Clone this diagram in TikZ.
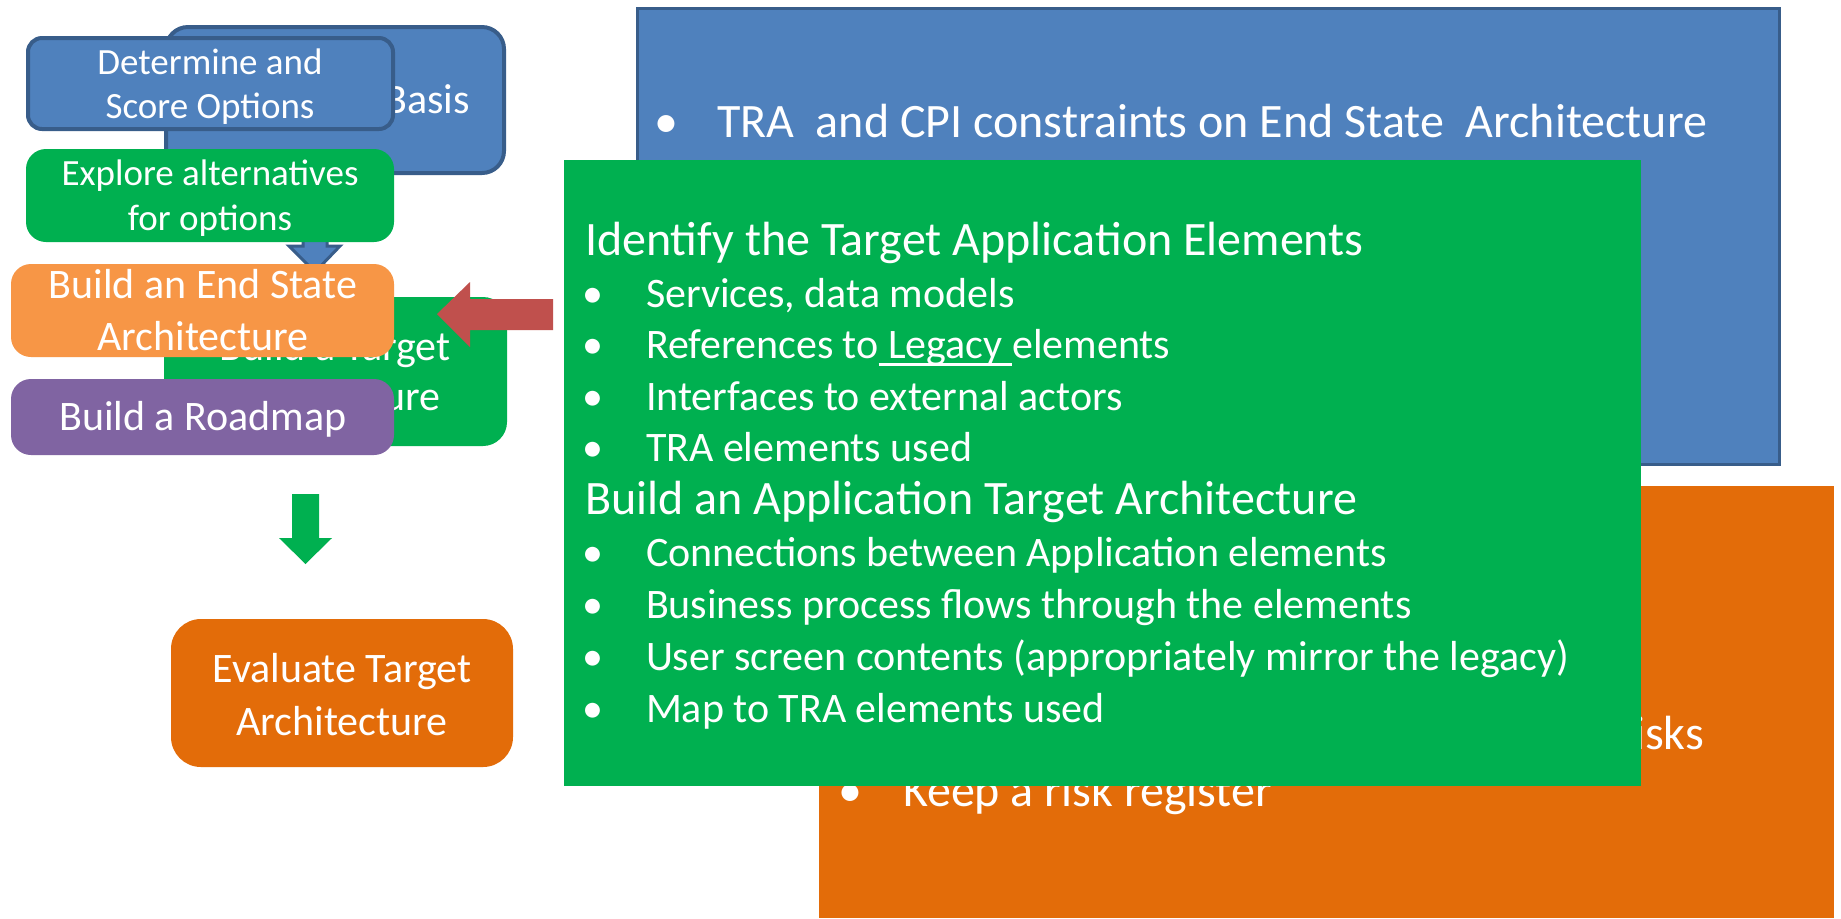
\documentclass[tikz,border=0pt]{standalone}
\usepackage{fontspec}
\setmainfont{Carlito}
\usetikzlibrary{fit}
\definecolor{offblue}{HTML}{4F81BD}
\definecolor{offblueline}{HTML}{385D8A}
\definecolor{offgreen}{HTML}{00B050}
\definecolor{offorange}{HTML}{F79646}
\definecolor{offdarkorange}{HTML}{E36C09}
\definecolor{offpurple}{HTML}{8064A2}
\definecolor{offred}{HTML}{C0504D}
\newcommand\legacyline[1]{{\setbox0\hbox{#1}\rlap{\rule[-3.8pt]{\wd0}{1.2pt}}\box0}}
\tikzset{
  panel/.style={inner sep=0pt, outer sep=0pt},
  lbl/.style={text=white, inner sep=0pt, outer sep=0pt, anchor=base},
  small/.style={lbl, font=\fontsize{18.5}{22}\selectfont},
  mid/.style={lbl, font=\fontsize{21}{25}\selectfont},
  big/.style={lbl, font=\fontsize{24}{29}\selectfont},
  lefttext/.style={anchor=base west},
  blockarrow/.style={line join=miter},
}
\begin{document}
\begin{tikzpicture}[x=0.5pt,y=-0.5pt]
\useasboundingbox[fill=white] (0,0) rectangle (1841,918);

% back boxes of the left flow
\node[panel, fill=offblue, draw=offblueline, line width=2pt, rounded corners=11pt, fit={(166,27) (504,173)}] (basis) {};
\node[mid, anchor=base east] (basist) at (470,113) {Basis};

\node[panel, fill=offgreen, rounded corners=12pt, fit={(164,297) (507,446)}] (target) {};
\node[mid] (target1) at (335,360) {Build a Target};
\node[mid] (target2) at (335,410) {Architecture};

\filldraw[blockarrow, fill=offblue, draw=offblueline, line width=1.5pt] (303,220) -- (327,220) -- (327,246) -- (340,246) -- (315,272) -- (289,246) -- (303,246) -- cycle;

% front boxes of the left flow
\node[panel, fill=offblue, draw=offblueline, line width=2pt, rounded corners=7pt, fit={(28,38) (393,129)}] (det) {};
\node[small] (det1) at (210,74) {Determine and};
\node[small] (det2) at (210,118) {Score Options};

\node[panel, fill=offgreen, rounded corners=10pt, fit={(26,149) (394,242)}] (expl) {};
\node[small] (expl1) at (210,185) {Explore alternatives};
\node[small] (expl2) at (210,230) {for options};

\node[panel, fill=offorange, rounded corners=10pt, fit={(11,264) (394,357)}] (endst) {};
\node[mid] (endst1) at (203,298) {Build an End State};
\node[mid] (endst2) at (203,350) {Architecture};

\node[panel, fill=offpurple, rounded corners=10pt, fit={(11,379) (394,455)}] (road) {};
\node[mid] (road1) at (203,430) {Build a Roadmap};

\fill[blockarrow, offgreen] (292,494) -- (319,494) -- (319,538) -- (332,538) -- (305.5,564) -- (279,538) -- (292,538) -- cycle;

\node[panel, fill=offdarkorange, rounded corners=15pt, fit={(171,619) (513,767)}] (eval) {};
\node[mid] (eval1) at (342,682) {Evaluate Target};
\node[mid] (eval2) at (342,735) {Architecture};

% big blue panel
\node[panel, fill=offblue, draw=offblueline, line width=1.5pt, fit={(637,8) (1779,464)}] (tra) {};
\node[big] (trab) at (666,137) {•};
\node[big, lefttext] (trat) at (717,137) {TRA\ \ and CPI constraints on End State\ \ Architecture};

% big orange panel
\node[panel, fill=offdarkorange, fit={(819,486) (1834,918)}] (risk) {};
\node[big, anchor=base east] (riskt1) at (1704,749) {risks};
\node[big] (riskb2) at (850,806) {•};
\node[big, lefttext] (riskt2) at (903,806) {Keep a risk register};

% big green panel
\node[panel, fill=offgreen, fit={(564,160) (1641,786)}] (app) {};
\node[big, lefttext] (h1) at (585,255) {Identify the Target Application Elements};
\node[mid] (b1) at (593,307) {•};
\node[mid, lefttext] (s1) at (646,307) {Services, data models};
\node[mid] (b2) at (593,358) {•};
\node[mid, lefttext] (s2) at (646,358) {References to\legacyline{\ Legacy\ }elements};
\node[mid] (b3) at (593,410) {•};
\node[mid, lefttext] (s3) at (646,410) {Interfaces to external actors};
\node[mid] (b4) at (593,461) {•};
\node[mid, lefttext] (s4) at (646,461) {TRA elements used};
\node[big, lefttext] (h2) at (585,514) {Build an Application Target Architecture};
\node[mid] (b5) at (593,566) {•};
\node[mid, lefttext] (s5) at (646,566) {Connections between Application elements};
\node[mid] (b6) at (593,618) {•};
\node[mid, lefttext] (s6) at (646,618) {Business process flows through the elements};
\node[mid] (b7) at (593,670) {•};
\node[mid, lefttext] (s7) at (646,670) {User screen contents (appropriately mirror the legacy)};
\node[mid] (b8) at (593,722) {•};
\node[mid, lefttext] (s8) at (646,722) {Map to TRA elements used};

% red block arrow
\fill[blockarrow, offred] (553,299) -- (470,299) -- (470,282) -- (437,314) -- (470,347) -- (470,330) -- (553,330) -- cycle;
\end{tikzpicture}
\end{document}
